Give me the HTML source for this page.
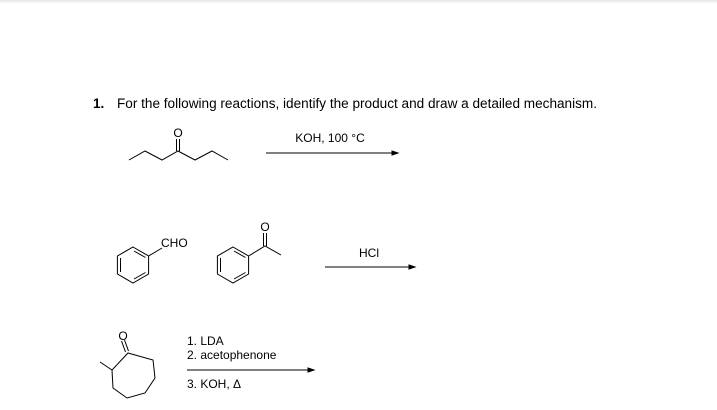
<!DOCTYPE html>
<html><head><style>
html,body{margin:0;padding:0;background:#fff;}
svg{display:block;}
text{font-family:"Liberation Sans",Arial,sans-serif;fill:#000;}
</style></head><body>
<svg width="717" height="410" viewBox="0 0 717 410" xmlns="http://www.w3.org/2000/svg">
<defs><linearGradient id="g" x1="0" y1="0" x2="0" y2="1"><stop offset="0" stop-color="#e6e6e6"/><stop offset="1" stop-color="#fff"/></linearGradient></defs>
<rect x="0" y="0" width="717" height="4" fill="url(#g)"/>
<text x="93" y="108" font-size="13.5" font-weight="bold">1.</text>
<text x="117" y="108" font-size="13.5" textLength="480" lengthAdjust="spacingAndGlyphs">For the following reactions, identify the product and draw a detailed mechanism.</text>
<g stroke="#000" stroke-width="1" fill="none">
<polyline points="129,160 145,151 162,160 178,151 195,160 212,151 228,160"/>
<line x1="176.5" y1="151" x2="176.5" y2="139"/><line x1="179.5" y1="151" x2="179.5" y2="139"/>
<line x1="266" y1="153" x2="392" y2="153"/>
<polygon points="392,151 398,153 392,155" fill="#000"/>
<polygon points="133,247 148.6,256 148.6,274 133,283 117.4,274 117.4,256"/>
<line x1="120.5" y1="258" x2="120.5" y2="272"/>
<line x1="134" y1="279" x2="145.5" y2="272.5"/>
<line x1="134" y1="251" x2="145.5" y2="257.5"/>
<line x1="148.6" y1="256" x2="162" y2="248"/>
<polygon points="233,247 248.6,256 248.6,274 233,283 217.4,274 217.4,256"/>
<line x1="220.5" y1="258" x2="220.5" y2="272"/>
<line x1="234" y1="279" x2="245.5" y2="272.5"/>
<line x1="234" y1="251" x2="245.5" y2="257.5"/>
<polyline points="248.6,256 265,246 281,255"/>
<line x1="263.5" y1="246" x2="263.5" y2="233"/><line x1="266.5" y1="246" x2="266.5" y2="233"/>
<line x1="325" y1="267" x2="409" y2="267"/>
<polygon points="409,265 415,267 409,269" fill="#000"/>
<polygon points="128,353 153,360 155,378 145,393 127,398 113,388 112,370"/>
<line x1="112" y1="370" x2="100" y2="362"/>
<line x1="125.5" y1="352" x2="121.5" y2="341"/><line x1="128.5" y1="351" x2="124.5" y2="340"/>
<line x1="187" y1="370" x2="308" y2="370"/>
<polygon points="308,368 314,370 308,372" fill="#000"/>
</g>
<text x="178" y="137" font-size="12" text-anchor="middle">O</text>
<text x="330" y="142" font-size="12" text-anchor="middle">KOH, 100 °C</text>
<text x="161" y="247" font-size="12">CHO</text>
<text x="265" y="231" font-size="12" text-anchor="middle">O</text>
<text x="369" y="257" font-size="12" text-anchor="middle">HCl</text>
<text x="123" y="340" font-size="12" text-anchor="middle">O</text>
<text x="187" y="345" font-size="12">1. LDA</text>
<text x="187" y="359" font-size="12">2. acetophenone</text>
<text x="187" y="388" font-size="12">3. KOH, Δ</text>
</svg>
</body></html>
